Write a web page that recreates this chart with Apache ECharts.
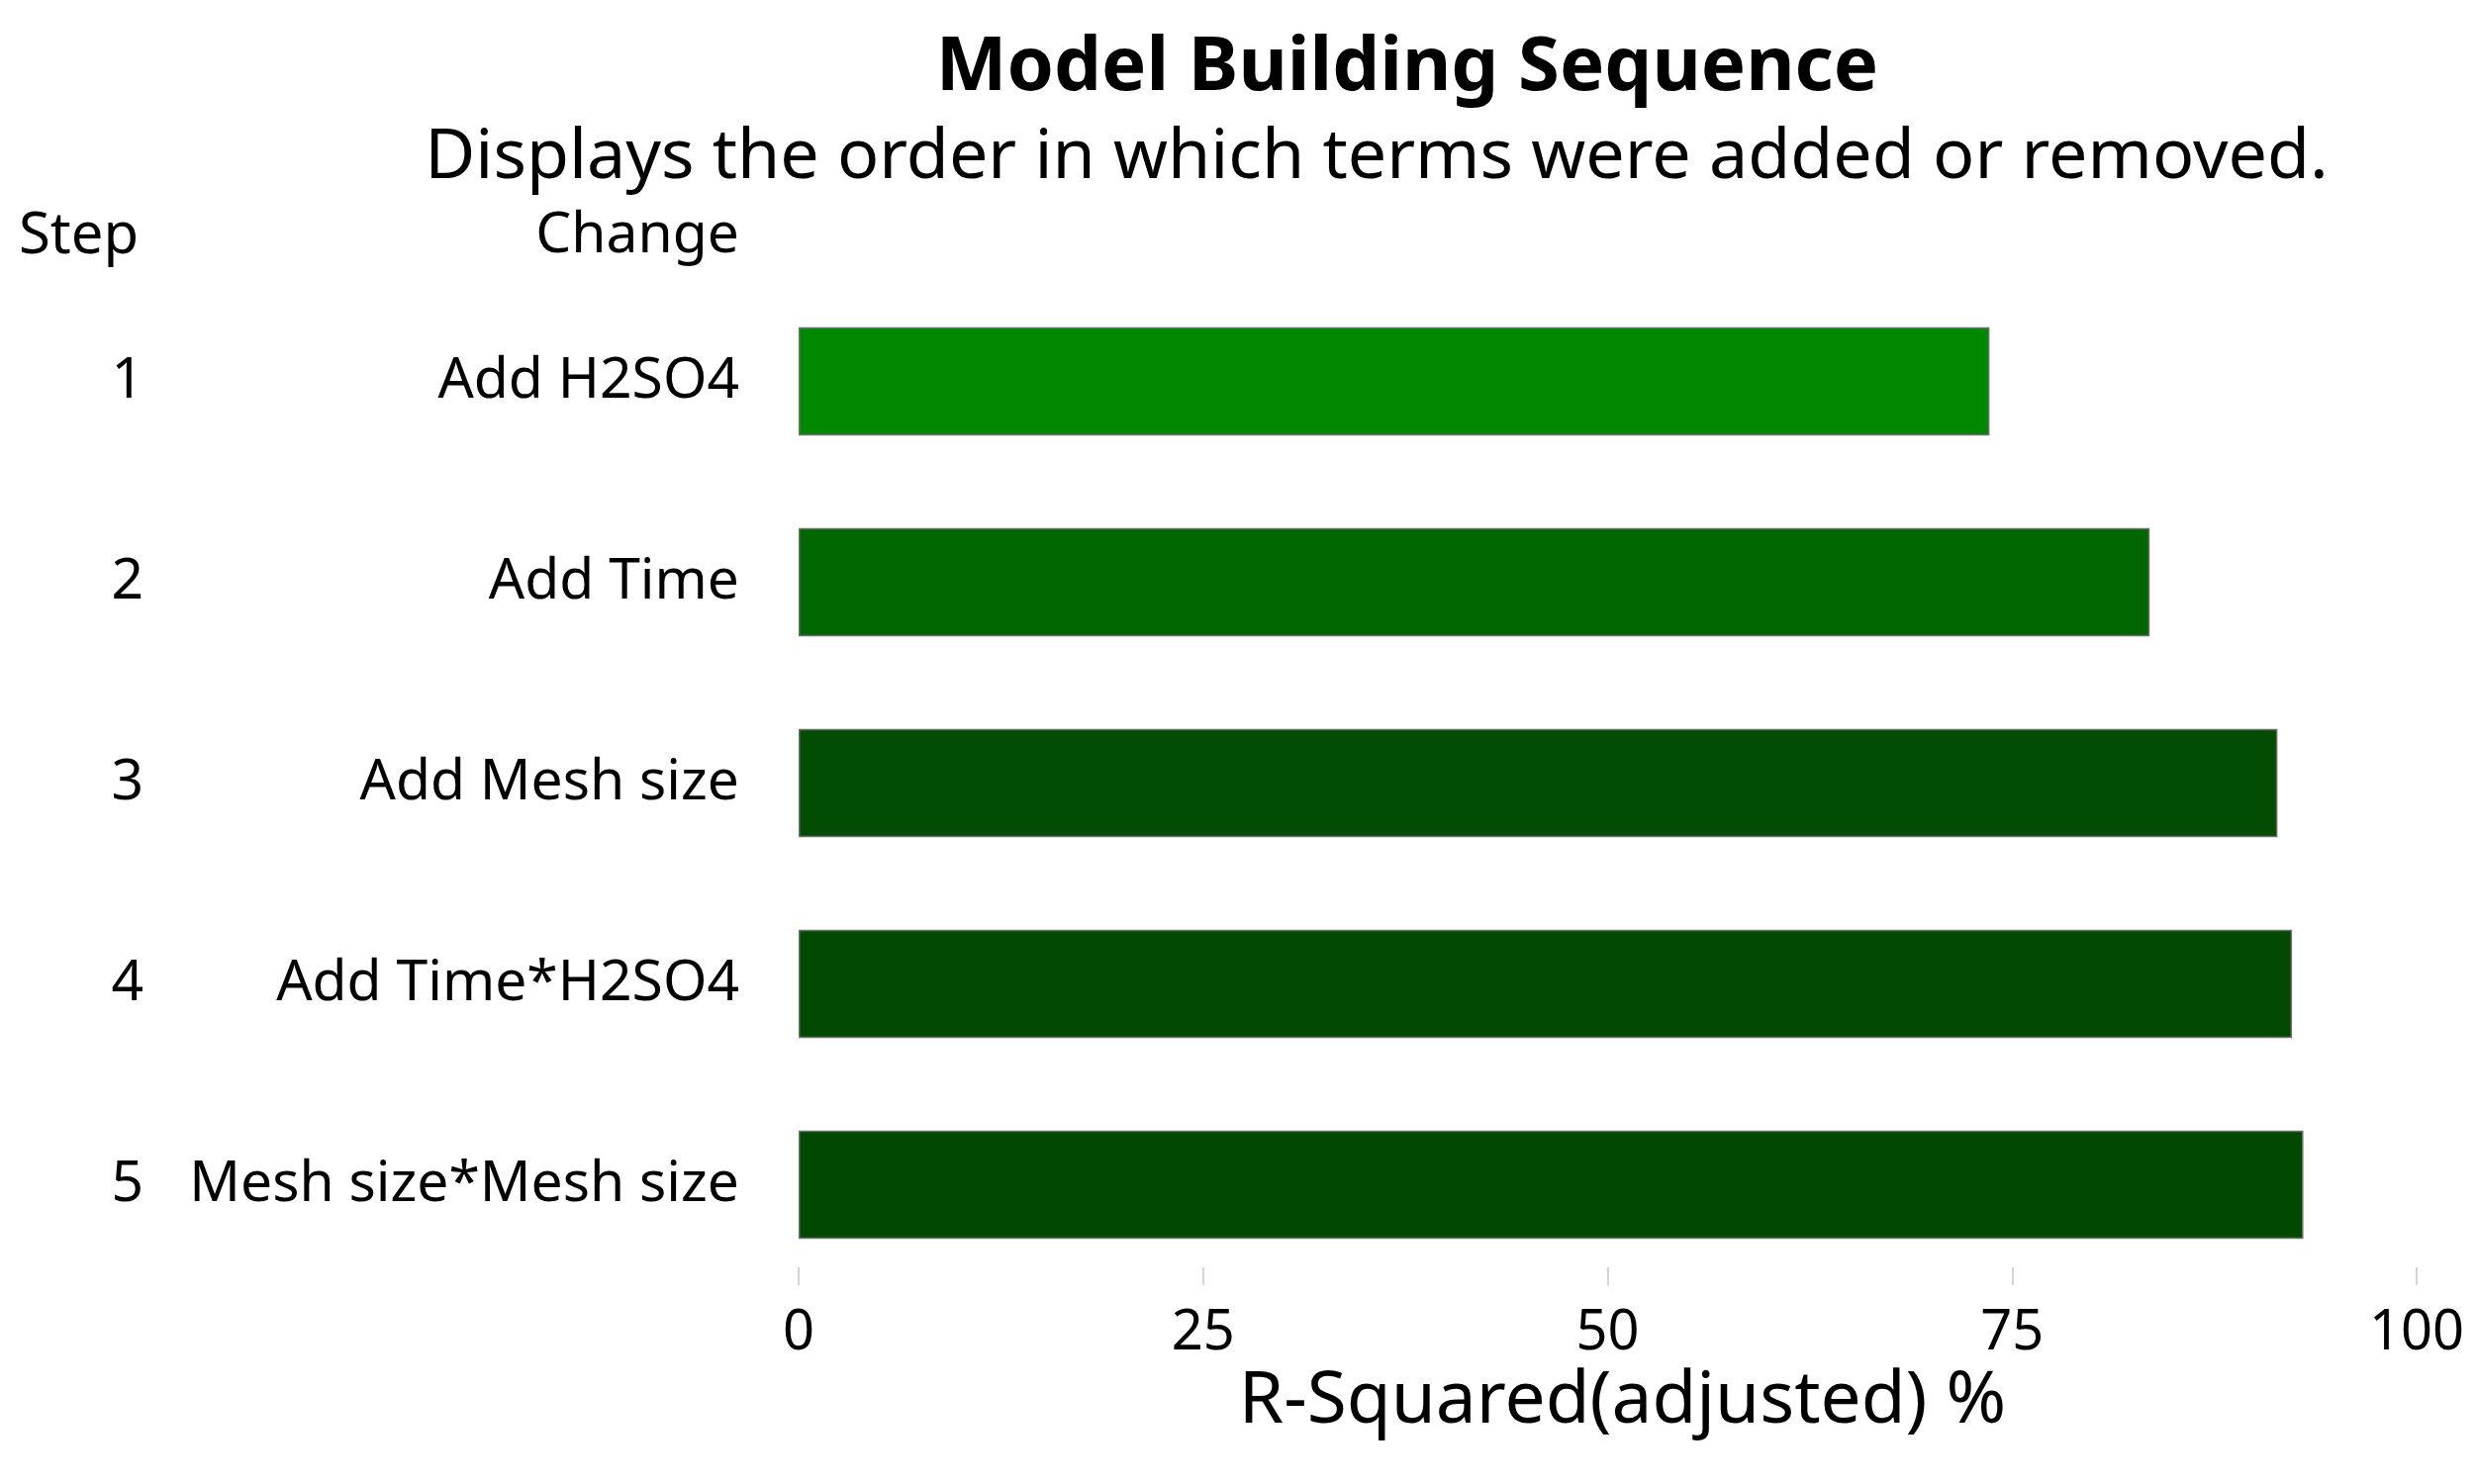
<!DOCTYPE html>
<html>
<head>
<meta charset="utf-8">
<title>Model Building Sequence</title>
<script src="https://cdn.jsdelivr.net/npm/echarts@6/dist/echarts.min.js"></script>
<style>
  html, body { margin: 0; padding: 0; background: #fff; }
  #chart { width: 2502px; height: 1500px; }
</style>
</head>
<body>
<div id="chart"></div>
<script>
// values
var steps = ["1", "2", "3", "4", "5"];
var changes = ["Add H2SO4", "Add Time", "Add Mesh size", "Add Time*H2SO4", "Mesh size*Mesh size"];
var rsqAdjusted = [73.6, 83.5, 91.4, 92.3, 93.0];
var xTicks = [0, 25, 50, 75, 100];

var FONT = "Noto Sans";
var myChart = echarts.init(document.getElementById("chart"));
var barColors = ["#008800", "#006600", "#034c03", "#024a02", "#014801"];

var option = {
  animation: false,
  backgroundColor: "#fff",
  textStyle: { fontFamily: FONT, color: "#000" },
  graphic: [
    { type: "text", x: 1422, y: 69, style: { text: "Model Building Sequence", font: "bold 76px " + FONT, fill: "#000", align: "center", verticalAlign: "middle" } },
    { type: "text", x: 1391, y: 160, style: { text: "Displays the order in which terms were added or removed.", font: "70px " + FONT, fill: "#000", align: "center", verticalAlign: "middle" } },
    { type: "text", x: 19, y: 239, style: { text: "Step", font: "58px " + FONT, fill: "#000", align: "left", verticalAlign: "middle" } },
    { type: "text", x: 747, y: 239, style: { text: "Change", font: "57px " + FONT, fill: "#000", align: "right", verticalAlign: "middle" } }
  ],
  grid: { left: 807, right: 60, top: 284, bottom: 201, containLabel: false },
  xAxis: {
    type: "value",
    min: xTicks[0],
    max: xTicks[xTicks.length - 1],
    interval: 25,
    name: "R-Squared(adjusted) %",
    nameLocation: "middle",
    nameGap: 82,
    nameTextStyle: { fontSize: 73, color: "#000", fontFamily: FONT, padding: [0, 0, 0, 30] },
    axisLine: { show: false },
    axisTick: { show: true, inside: true, length: 18, lineStyle: { color: "#c8c8c8", width: 1.5 } },
    axisLabel: { fontSize: 56, color: "#000", margin: 21, fontFamily: FONT },
    splitLine: { show: false }
  },
  yAxis: [
    {
      type: "category",
      data: changes,
      inverse: true,
      axisLine: { show: false },
      axisTick: { show: false },
      axisLabel: { fontSize: 57, color: "#000", margin: 60, fontFamily: FONT }
    },
    {
      type: "category",
      data: steps,
      inverse: true,
      position: "left",
      offset: 602,
      axisLine: { show: false },
      axisTick: { show: false },
      axisLabel: { fontSize: 57, color: "#000", margin: 60, fontFamily: FONT }
    }
  ],
  series: [
    {
      type: "bar",
      yAxisIndex: 0,
      barWidth: "54%",
      data: rsqAdjusted.map(function (v, i) {
        return {
          value: v,
          itemStyle: { color: barColors[i], borderColor: "#6e6e6e", borderWidth: 1.5 }
        };
      })
    }
  ]
};

myChart.setOption(option);
</script>
</body>
</html>
